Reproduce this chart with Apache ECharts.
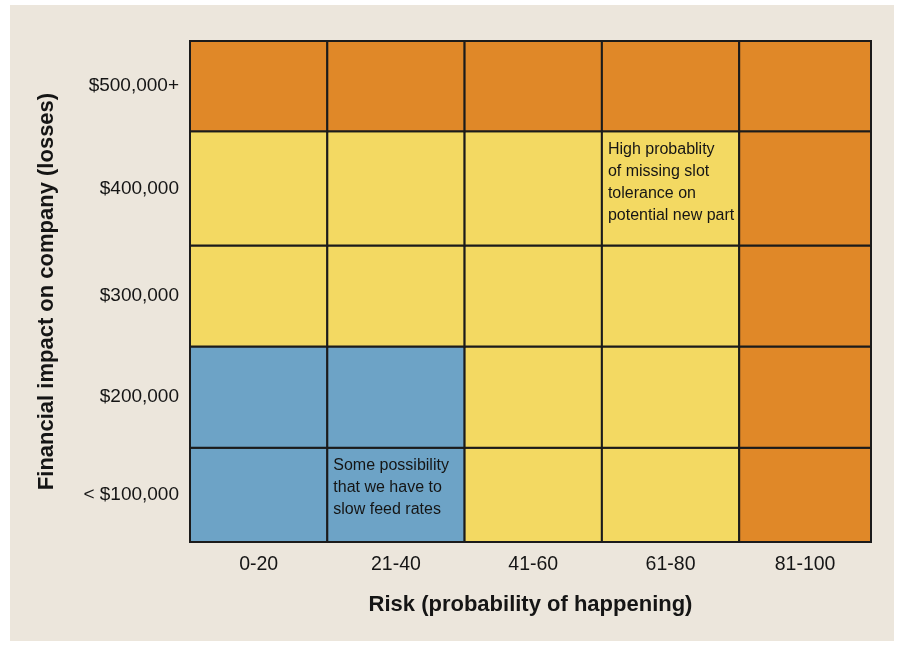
<!DOCTYPE html>
<html>
<head>
<meta charset="utf-8">
<script src="https://cdn.jsdelivr.net/npm/echarts@6/dist/echarts.min.js"></script>
<style>
  html, body { margin: 0; padding: 0; background: #ffffff; }
  #wrap { position: relative; width: 900px; height: 645px; }
  #panel { position: absolute; left: 10px; top: 5px; width: 884px; height: 636px; background: #ECE6DC; }
  #chart { position: absolute; left: 0; top: 0; width: 900px; height: 645px; }
</style>
</head>
<body>
<div id="wrap">
  <div id="panel"></div>
  <div id="chart"></div>
</div>
<script>
// risk columns (probability of happening)
var riskLabels = ['0-20', '21-40', '41-60', '61-80', '81-100'];
var colEdges = [0, 20, 40, 60, 80, 99.2];

// impact rows, bottom to top
var impactLabels = ['< $100,000', '$200,000', '$300,000', '$400,000', '$500,000+'];
var rowEdges = [0, 94, 195, 296, 410, 500];

// level per cell: 0 = low (blue), 1 = medium (yellow), 2 = high (orange)
// rows listed bottom to top, columns left to right
var levels = [
    [0, 0, 1, 1, 2],
    [0, 0, 1, 1, 2],
    [1, 1, 1, 1, 2],
    [1, 1, 1, 1, 2],
    [2, 2, 2, 2, 2]
];
var levelColors = ['#6DA3C6', '#F3D962', '#E08828'];

// notes written inside cells: [col, row, text]
var notes = [
    [1, 0, 'Some possibility\nthat we have to\nslow feed rates'],
    [3, 3, 'High probablity\nof missing slot\ntolerance on\npotential new part']
];

var cells = [];
for (var r = 0; r < levels.length; r++) {
    for (var c = 0; c < levels[r].length; c++) {
        var note = '';
        notes.forEach(function (n) {
            if (n[0] === c && n[1] === r) note = n[2];
        });
        cells.push({ value: [c, r, levels[r][c]], note: note });
    }
}

function centers(edges) {
    var out = [];
    for (var i = 0; i < edges.length - 1; i++) out.push((edges[i] + edges[i + 1]) / 2);
    return out;
}
var colCenters = centers(colEdges);
var rowCenters = centers(rowEdges);

var fontFam = '"Liberation Sans", Arial, sans-serif';

var myChart = echarts.init(document.getElementById('chart'));
var option = {
    backgroundColor: 'transparent',
    animation: false,
    grid: { left: 190, right: 29, top: 41, bottom: 103 },
    xAxis: {
        type: 'value',
        min: 0,
        max: colEdges[colEdges.length - 1],
        splitLine: { show: false },
        axisLine: { show: false },
        axisTick: { show: false, customValues: colCenters },
        axisLabel: {
            customValues: colCenters,
            margin: 13,
            fontSize: 19.5,
            fontFamily: fontFam,
            color: '#151515',
            formatter: function (v) {
                var i = colCenters.indexOf(v);
                return i >= 0 ? riskLabels[i] : '';
            }
        },
        name: 'Risk (probability of happening)',
        nameLocation: 'middle',
        nameGap: 52,
        nameTextStyle: { fontSize: 22, fontWeight: 'bold', fontFamily: fontFam, color: '#151515' }
    },
    yAxis: {
        type: 'value',
        min: 0,
        max: rowEdges[rowEdges.length - 1],
        splitLine: { show: false },
        axisLine: { show: false },
        axisTick: { show: false, customValues: rowCenters },
        axisLabel: {
            customValues: rowCenters,
            margin: 11,
            fontSize: 19,
            fontFamily: fontFam,
            color: '#151515',
            formatter: function (v) {
                var i = rowCenters.indexOf(v);
                return i >= 0 ? impactLabels[i] : '';
            }
        },
        name: 'Financial impact on company (losses)',
        nameLocation: 'middle',
        nameGap: 132,
        nameRotate: 90,
        nameTextStyle: { fontSize: 22, fontWeight: 'bold', fontFamily: fontFam, color: '#151515' }
    },
    series: [{
        type: 'custom',
        data: cells,
        encode: { x: 0, y: 1 },
        renderItem: function (params, api) {
            var c = api.value(0), r = api.value(1), lv = api.value(2);
            var tl = api.coord([colEdges[c], rowEdges[r + 1]]);
            var br = api.coord([colEdges[c + 1], rowEdges[r]]);
            var children = [{
                type: 'rect',
                shape: { x: tl[0], y: tl[1], width: br[0] - tl[0], height: br[1] - tl[1] },
                style: { fill: levelColors[lv], stroke: '#1b1b1b', lineWidth: 2 }
            }];
            var note = cells[params.dataIndex].note;
            if (note) {
                children.push({
                    type: 'text',
                    x: tl[0] + 6,
                    y: tl[1] + 7,
                    style: {
                        text: note,
                        fill: '#151515',
                        font: '16px ' + fontFam,
                        lineHeight: 22,
                        align: 'left',
                        verticalAlign: 'top'
                    }
                });
            }
            return { type: 'group', children: children };
        }
    }]
};
myChart.setOption(option);
</script>
</body>
</html>
